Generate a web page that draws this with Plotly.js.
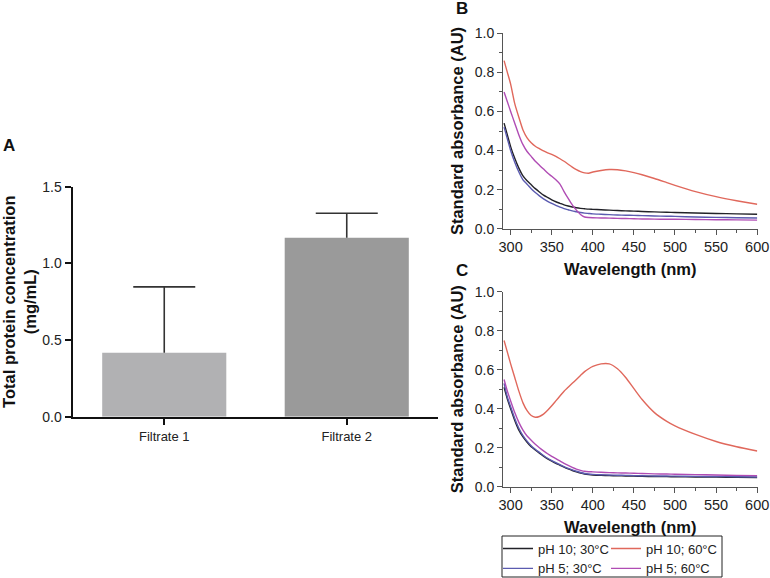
<!DOCTYPE html>
<html>
<head>
<meta charset="utf-8">
<script src="https://cdn.plot.ly/plotly-3.0.1.min.js"></script>
<style>html,body{margin:0;padding:0;background:#fff;overflow:hidden;}#chart{width:770px;height:590px;}</style>
</head>
<body>
<div id="chart"></div>
<script>
// ---- Panel A data ----
const categories = ['Filtrate 1', 'Filtrate 2'];
const proteinConc = [0.417, 1.167];
const proteinErr = [0.43, 0.16];
const barColors = ['#b1b1b3', '#9a9a9a'];

// ---- Panels B & C data ----
const wavelength = [292, 296, 300, 305, 310, 315, 320, 325, 330, 335, 340, 345, 350, 355, 360, 365, 370, 375, 380, 385, 390, 395, 400, 410, 420, 430, 440, 450, 460, 475, 490, 500, 525, 550, 575, 600];

const bPH10_30 = [0.54, 0.48, 0.42, 0.36, 0.31, 0.27, 0.245, 0.225, 0.205, 0.188, 0.172, 0.16, 0.148, 0.138, 0.13, 0.122, 0.116, 0.111, 0.107, 0.104, 0.102, 0.1, 0.099, 0.097, 0.095, 0.093, 0.091, 0.09, 0.088, 0.086, 0.084, 0.083, 0.08, 0.078, 0.076, 0.074];
const bPH10_60 = [0.86, 0.80, 0.74, 0.64, 0.57, 0.505, 0.465, 0.44, 0.422, 0.41, 0.398, 0.388, 0.38, 0.37, 0.358, 0.345, 0.33, 0.315, 0.302, 0.292, 0.286, 0.284, 0.29, 0.298, 0.303, 0.302, 0.296, 0.287, 0.276, 0.257, 0.236, 0.222, 0.19, 0.164, 0.143, 0.125];
const bPH5_30 = [0.52, 0.46, 0.40, 0.34, 0.29, 0.25, 0.228, 0.205, 0.185, 0.168, 0.153, 0.14, 0.129, 0.119, 0.11, 0.103, 0.097, 0.091, 0.087, 0.083, 0.08, 0.078, 0.076, 0.074, 0.072, 0.07, 0.069, 0.068, 0.067, 0.065, 0.064, 0.063, 0.06, 0.058, 0.056, 0.055];
const bPH5_60 = [0.70, 0.65, 0.60, 0.54, 0.48, 0.43, 0.395, 0.37, 0.345, 0.325, 0.305, 0.285, 0.268, 0.25, 0.228, 0.19, 0.155, 0.122, 0.095, 0.073, 0.06, 0.057, 0.056, 0.055, 0.054, 0.053, 0.052, 0.051, 0.05, 0.049, 0.0485, 0.048, 0.047, 0.046, 0.045, 0.044];

const cPH10_30 = [0.51, 0.45, 0.40, 0.34, 0.29, 0.255, 0.228, 0.205, 0.188, 0.172, 0.157, 0.143, 0.131, 0.12, 0.11, 0.1, 0.091, 0.083, 0.076, 0.07, 0.065, 0.062, 0.06, 0.058, 0.057, 0.056, 0.055, 0.054, 0.053, 0.052, 0.0515, 0.051, 0.05, 0.049, 0.048, 0.047];
const cPH10_60 = [0.75, 0.69, 0.63, 0.56, 0.49, 0.43, 0.39, 0.365, 0.356, 0.36, 0.372, 0.392, 0.415, 0.44, 0.465, 0.49, 0.51, 0.53, 0.55, 0.57, 0.59, 0.605, 0.617, 0.63, 0.63, 0.605, 0.56, 0.503, 0.447, 0.38, 0.335, 0.312, 0.268, 0.232, 0.205, 0.183];
const cPH5_30 = [0.53, 0.46, 0.41, 0.35, 0.30, 0.262, 0.234, 0.21, 0.192, 0.176, 0.16, 0.146, 0.134, 0.123, 0.113, 0.103, 0.094, 0.086, 0.079, 0.073, 0.068, 0.065, 0.063, 0.061, 0.06, 0.059, 0.058, 0.057, 0.056, 0.055, 0.0545, 0.054, 0.053, 0.052, 0.051, 0.05];
const cPH5_60 = [0.55, 0.49, 0.44, 0.38, 0.33, 0.29, 0.26, 0.238, 0.218, 0.2, 0.184, 0.169, 0.156, 0.144, 0.132, 0.12, 0.109, 0.099, 0.09, 0.084, 0.079, 0.077, 0.076, 0.074, 0.072, 0.071, 0.07, 0.069, 0.068, 0.066, 0.065, 0.064, 0.062, 0.06, 0.058, 0.057];

const seriesNames = ['pH 10; 30°C', 'pH 10; 60°C', 'pH 5; 30°C', 'pH 5; 60°C'];
const seriesColors = ['#222228', '#e0685c', '#5b5bb0', '#b04cb4'];

const FONT = 'Liberation Sans, Arial, sans-serif';
const W = 770, H = 590;
const px = v => v / W;
const py = v => 1 - v / H;

const traces = [];
traces.push({
  type: 'bar', x: categories, y: proteinConc, xaxis: 'x', yaxis: 'y',
  marker: {color: barColors, line: {width: 0}},
  showlegend: false, hoverinfo: 'skip'
});
// upper-only error bars: stem down to the bar top, cap drawn only at the top
const errTop = proteinConc.map((v, i) => v + proteinErr[i]);
traces.push({
  type: 'scatter', mode: 'markers', x: categories, y: errTop, xaxis: 'x', yaxis: 'y',
  marker: {size: 0.1, opacity: 0},
  error_y: {type: 'data', symmetric: false, array: [0, 0], arrayminus: proteinErr, width: 0, thickness: 1.6, color: '#333'},
  showlegend: false, hoverinfo: 'skip'
});
traces.push({
  type: 'scatter', mode: 'markers', x: categories, y: errTop, xaxis: 'x', yaxis: 'y',
  marker: {size: 0.1, opacity: 0},
  error_y: {type: 'data', symmetric: true, array: [0, 0], width: 31, thickness: 1.6, color: '#333'},
  showlegend: false, hoverinfo: 'skip'
});
const bSets = [bPH10_30, bPH10_60, bPH5_30, bPH5_60];
const cSets = [cPH10_30, cPH10_60, cPH5_30, cPH5_60];
const legendFor = ['legend', 'legend2', 'legend', 'legend2'];
bSets.forEach((ys, i) => traces.push({
  type: 'scatter', mode: 'lines', x: wavelength, y: ys, xaxis: 'x2', yaxis: 'y2',
  name: seriesNames[i], legend: legendFor[i], line: {color: seriesColors[i], width: 1.4, shape: 'spline', smoothing: 0.6}
}));
cSets.forEach((ys, i) => traces.push({
  type: 'scatter', mode: 'lines', x: wavelength, y: ys, xaxis: 'x3', yaxis: 'y3',
  name: seriesNames[i], showlegend: false, line: {color: seriesColors[i], width: 1.4, shape: 'spline', smoothing: 0.6}
}));

const boldTitle = (t) => ({text: t, font: {family: FONT, size: 16.5, weight: 'bold', color: '#111'}});
const specAxis = (extra) => Object.assign({
  showline: true, linecolor: '#555', linewidth: 1, ticks: 'outside', ticklen: 5, tickwidth: 1, tickcolor: '#555',
  showgrid: false, zeroline: false, tickfont: {family: FONT, size: 14, color: '#222'}, ticklabeloverflow: 'allow'
}, extra);
const specX = (anchor) => specAxis({domain: [px(503), px(757.5)], anchor: anchor, range: [290.7, 600.4], tick0: 300, dtick: 50,
  tickfont: {family: FONT, size: 14.5, color: '#222'},
  minor: {dtick: 25, ticklen: 3, tickcolor: '#555', ticks: 'outside'},
  title: Object.assign(boldTitle('Wavelength (nm)'), {standoff: 9})});
const specY = (anchor, d) => specAxis({domain: d, anchor: anchor, range: [0, 1], dtick: 0.2, tickformat: '.1f',
  minor: {dtick: 0.1, ticklen: 3, tickcolor: '#555', ticks: 'outside'},
  title: Object.assign(boldTitle('Standard absorbance (AU)'), {standoff: 6})});

const legendCommon = {yanchor: 'top', xanchor: 'left', orientation: 'v',
  font: {family: FONT, size: 13, color: '#222'}, bgcolor: 'rgba(0,0,0,0)', borderwidth: 0, tracegroupgap: 0};

const layout = {
  width: W, height: H,
  margin: {l: 0, r: 0, t: 0, b: 0},
  paper_bgcolor: '#fff', plot_bgcolor: '#fff',
  font: {family: FONT, color: '#222'},
  bargap: 0.32,
  xaxis: {
    domain: [px(73), px(438)], anchor: 'y', range: [-0.5, 1.5], type: 'category',
    showline: true, linecolor: '#111', linewidth: 2.5, ticks: 'outside', ticklen: 6, tickwidth: 2, tickcolor: '#111',
    showgrid: false, zeroline: false, tickfont: {family: FONT, size: 13, color: '#222'}
  },
  yaxis: {
    domain: [py(416.7), py(186.7)], anchor: 'x', range: [0, 1.5], dtick: 0.5, tickformat: '.1f',
    showline: true, linecolor: '#111', linewidth: 2.5, ticks: 'outside', ticklen: 6, tickwidth: 2, tickcolor: '#111',
    showgrid: false, zeroline: false, tickfont: {family: FONT, size: 14, color: '#222'},
    title: Object.assign(boldTitle('Total protein concentration<br>(mg/mL)'), {standoff: 12})
  },
  xaxis2: specX('y2'),
  yaxis2: specY('x2', [py(228.7), py(33.3)]),
  xaxis3: specX('y3'),
  yaxis3: specY('x3', [py(486.7), py(291.7)]),
  legend: Object.assign({x: px(498), y: py(533.5)}, legendCommon),
  legend2: Object.assign({x: px(606), y: py(533.5)}, legendCommon),
  shapes: [{type: 'rect', xref: 'paper', yref: 'paper', x0: px(502), x1: px(722), y0: py(577), y1: py(536),
    line: {color: '#222', width: 1}, fillcolor: 'rgba(0,0,0,0)'}],
  annotations: [
    {text: 'A', x: px(9), y: py(145), xref: 'paper', yref: 'paper', showarrow: false, xanchor: 'center', yanchor: 'middle', font: {family: FONT, size: 17, weight: 'bold', color: '#111'}},
    {text: 'B', x: px(462), y: py(9), xref: 'paper', yref: 'paper', showarrow: false, xanchor: 'center', yanchor: 'middle', font: {family: FONT, size: 17, weight: 'bold', color: '#111'}},
    {text: 'C', x: px(462), y: py(270), xref: 'paper', yref: 'paper', showarrow: false, xanchor: 'center', yanchor: 'middle', font: {family: FONT, size: 17, weight: 'bold', color: '#111'}}
  ]
};

Plotly.newPlot('chart', traces, layout, {displayModeBar: false, staticPlot: true});
</script>
</body>
</html>
